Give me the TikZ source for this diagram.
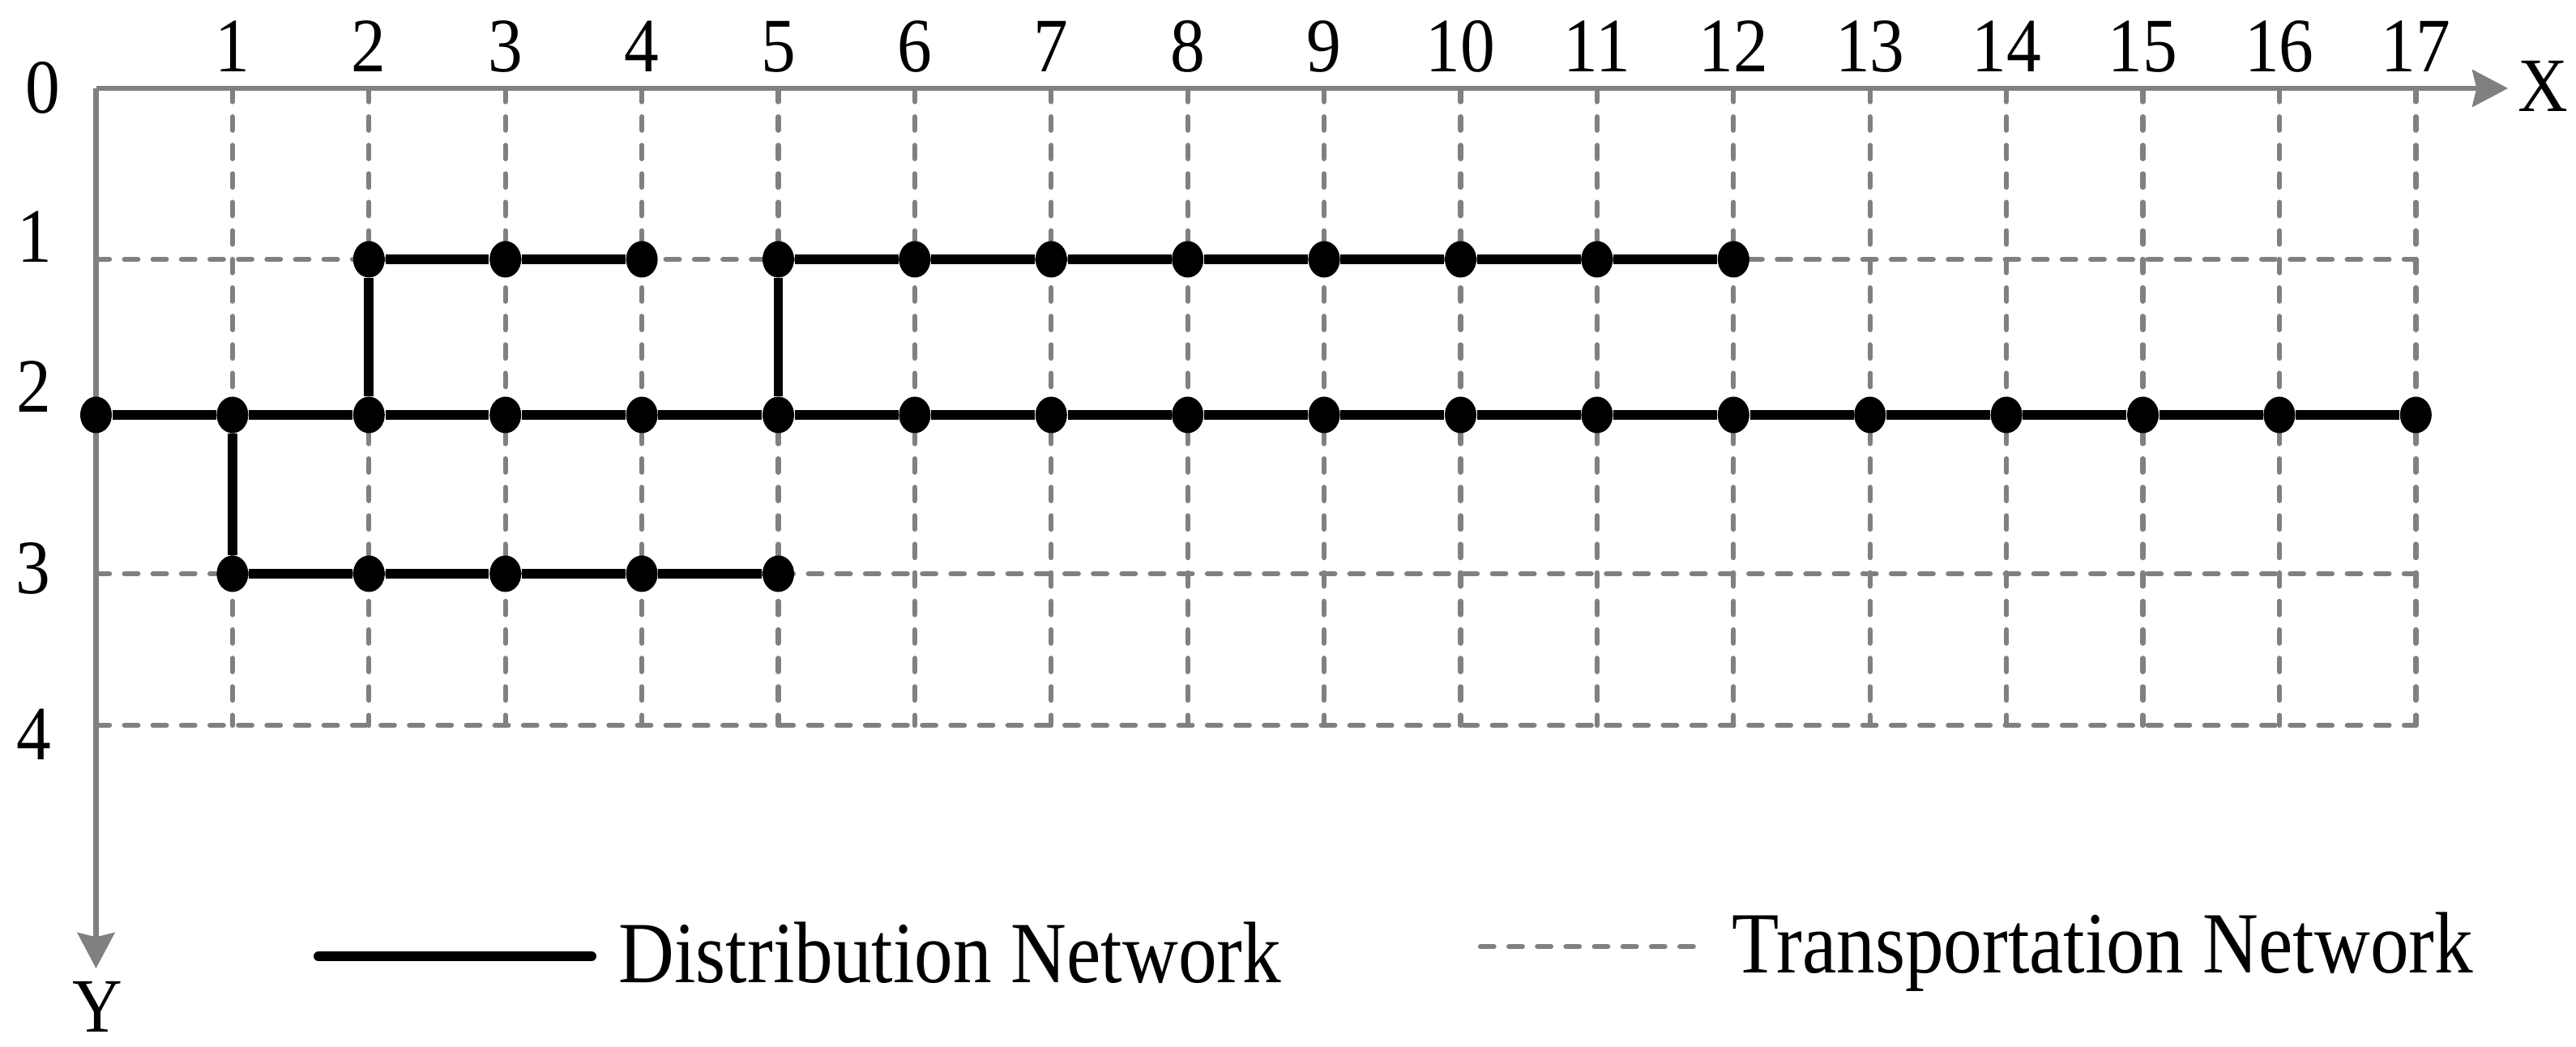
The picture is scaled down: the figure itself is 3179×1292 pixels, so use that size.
\documentclass[tikz,border=0pt]{standalone}
\usepackage{fontspec}
\setmainfont{Liberation Serif}[FakeStretch=0.9]
\newfontfamily\legfont{Liberation Serif}[FakeStretch=0.885]
\usetikzlibrary{arrows.meta,shapes.geometric}
\definecolor{axgray}{RGB}{128,128,128}
\begin{document}
\begin{tikzpicture}[x=0.01cm,y=-0.01cm,
  gridline/.style={draw=axgray, line width=1.8pt, dash pattern=on 4.7pt off 5.3pt, line cap=round},
  axisline/.style={draw=axgray, line width=1.85pt, -{Stealth[length=12.5pt,width=13pt,inset=1.5pt]}},
  netline/.style={draw=black, line width=3.4pt},
  legline/.style={draw=black, line width=3.4pt, line cap=round},
  dot/.style={ellipse, fill=black, minimum width=0.39cm, minimum height=0.45cm, inner sep=0pt},
  numlbl/.style={font=\fontsize{27}{27}\selectfont, anchor=base, inner sep=0pt},
  leglbl/.style={font=\legfont\fontsize{30.6}{30}\selectfont, anchor=base west, inner sep=0pt}]

\useasboundingbox[fill=white] (0,0) rectangle (3179,1292);

% columns and rows
\foreach \i in {0,...,17} { \coordinate (c\i) at ({118.5+168.4*\i},0); }
\coordinate (r0) at (0,109);
\coordinate (r1) at (0,320);
\coordinate (r2) at (0,512);
\coordinate (r3) at (0,708);
\coordinate (r4) at (0,895);

% transportation grid
\foreach \i in {1,...,17} { \draw[gridline] (c\i |- r0) -- (c\i |- r4); }
\foreach \j in {1,3,4} { \draw[gridline] (c0 |- r\j) -- (c17 |- r\j); }

% axes
\coordinate (O) at (c0 |- r0);
\coordinate (xtip) at (3095,109);
\coordinate (ytip) at (118.5,1195);
\draw[axisline] (O) -- (xtip);
\draw[axisline] (O) -- (ytip);

% axis labels
\node[numlbl] (xl) at (3138,138) {X};
\node[numlbl] (yl) at (120,1273) {Y};
\foreach \i in {1,...,17} { \node[numlbl] (t\i) at (c\i |- 0,89) {\i}; }
\node[numlbl] (l0) at (53,140) {0};
\node[numlbl] (l1) at (43,324) {1};
\node[numlbl] (l2) at (42,509) {2};
\node[numlbl] (l3) at (41,733) {3};
\node[numlbl] (l4) at (42,938) {4};

% distribution network nodes
\foreach \i in {0,...,17} { \node[dot] (d-\i-2) at (c\i |- r2) {}; }
\foreach \i in {2,...,12} { \node[dot] (d-\i-1) at (c\i |- r1) {}; }
\foreach \i in {1,...,5} { \node[dot] (d-\i-3) at (c\i |- r3) {}; }

% distribution network lines
\foreach \i [evaluate=\i as \j using int(\i+1)] in {0,...,16} { \draw[netline] (d-\i-2) -- (d-\j-2); }
\foreach \i [evaluate=\i as \j using int(\i+1)] in {2,3,5,6,7,8,9,10,11} { \draw[netline] (d-\i-1) -- (d-\j-1); }
\foreach \i [evaluate=\i as \j using int(\i+1)] in {1,...,4} { \draw[netline] (d-\i-3) -- (d-\j-3); }
\draw[netline] (d-2-1) -- (d-2-2);
\draw[netline] (d-5-1) -- (d-5-2);
\draw[netline] (d-1-2) -- (d-1-3);

% legend
\coordinate (la) at (393,1180);
\coordinate (lb) at (730,1180);
\draw[legline] (la) -- (lb);
\node[leglbl] (ld) at (763,1212) {Distribution Network};
\coordinate (lc) at (1827,1168);
\coordinate (le) at (2096,1168);
\draw[gridline] (lc) -- (le);
\node[leglbl] (lt) at (2137,1200) {Transportation Network};
\end{tikzpicture}
\end{document}
